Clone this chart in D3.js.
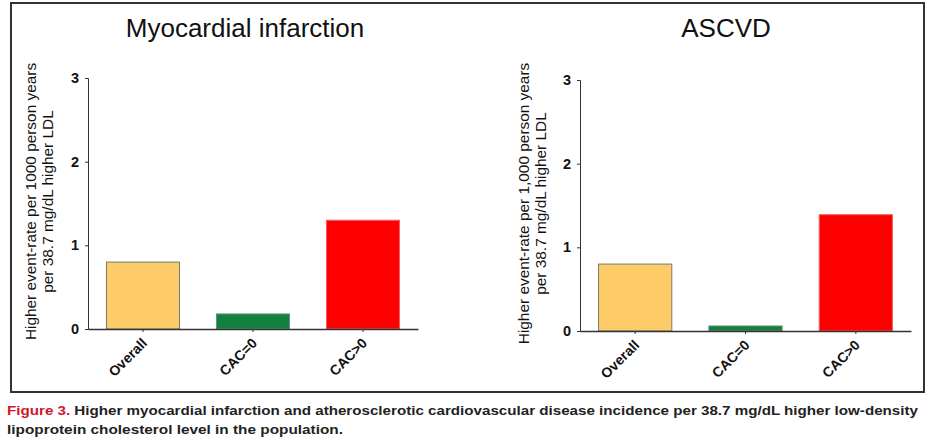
<!DOCTYPE html>
<html>
<head>
<meta charset="utf-8">
<script src="https://cdn.jsdelivr.net/npm/d3@7"></script>
<style>
  body { margin: 0; background: #fff; }
  svg { display: block; font-family: "Liberation Sans", Arial, sans-serif; }
</style>
</head>
<body>
<svg id="chart" width="933" height="442"></svg>
<script>
// --- data ---
const categories = ['Overall', 'CAC=0', 'CAC>0'];
const miValues = [0.80, 0.18, 1.30];
const ascvdValues = [0.80, 0.06, 1.39];
const yTicks = [0, 1, 2, 3];
const barColors = ['#fdcb68', '#128140', '#ff0000'];
const barStrokes = ['#7a7a6a', '#6b8f78', '#f06060'];

const panels = [
  {
    title: 'Myocardial infarction',
    values: miValues,
    yLabel: ['Higher event-rate per 1000 person years', 'per 38.7 mg/dL higher LDL'],
    left: 88, right: 418, top: 78, bottom: 329, titleX: 245, labelX: 36
  },
  {
    title: 'ASCVD',
    values: ascvdValues,
    yLabel: ['Higher event-rate per 1,000 person years', 'per 38.7 mg/dL higher LDL'],
    left: 580, right: 911, top: 80, bottom: 331, titleX: 726, labelX: 529
  }
];

const svg = d3.select('#chart');

// frame
svg.append('rect')
  .attr('x', 11).attr('y', 3)
  .attr('width', 913).attr('height', 389)
  .attr('fill', 'none')
  .attr('stroke', '#333')
  .attr('stroke-width', 2);

panels.forEach(p => {
  const g = svg.append('g');

  const x = d3.scaleBand()
    .domain(categories)
    .range([p.left, p.right])
    .paddingInner(0.336)
    .paddingOuter(0.168);

  const y = d3.scaleLinear()
    .domain([0, 3])
    .range([p.bottom, p.top]);

  // title
  g.append('text')
    .attr('x', p.titleX).attr('y', 37)
    .attr('text-anchor', 'middle')
    .attr('font-size', 26)
    .attr('fill', '#111')
    .text(p.title);

  // y axis label (two lines, rotated)
  const cy = (p.top + p.bottom) / 2 - 2;
  p.yLabel.forEach((line, i) => {
    g.append('text')
      .attr('transform', `translate(${p.labelX + i * 17},${cy}) rotate(-90)`)
      .attr('text-anchor', 'middle')
      .attr('font-size', 15.4)
      .attr('fill', '#111')
      .text(line);
  });

  // bars
  g.selectAll('.bar')
    .data(p.values)
    .enter()
    .append('rect')
    .attr('x', (d, i) => x(categories[i]))
    .attr('y', d => y(d))
    .attr('width', x.bandwidth())
    .attr('height', d => y(0) - y(d))
    .attr('fill', (d, i) => barColors[i])
    .attr('stroke', (d, i) => barStrokes[i])
    .attr('stroke-width', 1);

  // y axis
  const yAxis = g.append('g')
    .attr('transform', `translate(${p.left},0)`)
    .call(d3.axisLeft(y).tickValues(yTicks).tickSize(3).tickPadding(6).tickFormat(d3.format('d')));
  yAxis.select('.domain').attr('stroke', '#333');
  yAxis.selectAll('.tick line').attr('stroke', '#333');
  yAxis.selectAll('text')
    .attr('font-size', 14.5)
    .attr('font-weight', 'bold')
    .attr('fill', '#111')
    .attr('font-family', '"Liberation Sans", Arial, sans-serif');

  // x axis
  const xAxis = g.append('g')
    .attr('transform', `translate(0,${p.bottom})`)
    .call(d3.axisBottom(x).tickSize(3).tickSizeOuter(0));
  xAxis.select('.domain').attr('stroke', '#333').attr('stroke-width', 1.3);
  xAxis.selectAll('.tick line').attr('stroke', '#333');
  xAxis.selectAll('text')
    .attr('font-size', 14)
    .attr('font-weight', 'bold')
    .attr('fill', '#111')
    .attr('font-family', '"Liberation Sans", Arial, sans-serif')
    .attr('text-anchor', 'end')
    .attr('dy', null)
    .attr('y', 0)
    .attr('transform', 'translate(5,15) rotate(-45)');
});

// caption
const cap = svg.append('g')
  .attr('font-family', '"Liberation Sans", Arial, sans-serif')
  .attr('font-weight', 'bold')
  .attr('font-size', 13.5);

const line1 = cap.append('text')
  .attr('x', 7).attr('y', 415)
  .attr('textLength', 911)
  .attr('lengthAdjust', 'spacingAndGlyphs');
line1.append('tspan').attr('fill', '#d0142c').text('Figure 3. ');
line1.append('tspan').attr('fill', '#222')
  .text('Higher myocardial infarction and atherosclerotic cardiovascular disease incidence per 38.7 mg/dL higher low-density');

cap.append('text')
  .attr('x', 7).attr('y', 434)
  .attr('fill', '#222')
  .attr('textLength', 336)
  .attr('lengthAdjust', 'spacingAndGlyphs')
  .text('lipoprotein cholesterol level in the population.');
</script>
</body>
</html>
